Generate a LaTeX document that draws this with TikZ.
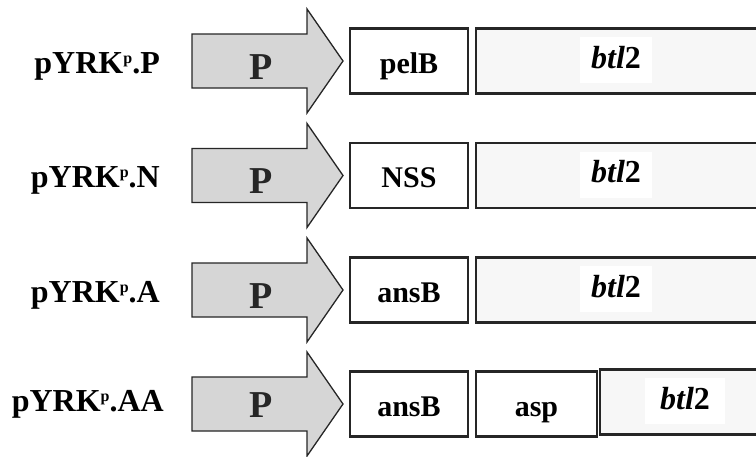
\documentclass[tikz,border=0pt]{standalone}
\usepackage{fontspec}
\setmainfont{Liberation Serif}
\usetikzlibrary{calc}

\definecolor{cinzaseta}{HTML}{D6D6D6}
\definecolor{cinzagene}{HTML}{F7F7F7}
\definecolor{borda}{HTML}{262626}

% nome do plasmideo com o p elevado
\newcommand{\pyrk}[1]{pYRK\raisebox{10pt}{\fontsize{16}{16}\selectfont p}.#1}

\tikzset{
  rotulo/.style={font=\fontsize{32}{34}\selectfont\bfseries, anchor=base east, inner sep=0pt},
  seta/.style={draw=black!85, line width=1.3pt, fill=cinzaseta, line join=miter},
  letra/.style={font=\fontsize{38}{40}\selectfont\bfseries, text=black!85, anchor=base, inner sep=0pt},
  caixa/.style={draw=borda, line width=2.2pt, fill=white, minimum height=65pt,
    inner sep=0pt, font=\fontsize{30}{32}\selectfont\bfseries,
    text height=24pt, text depth=0pt},
  gene/.style={caixa, fill=cinzagene},
  fundo/.style={fill=white, minimum width=72pt, minimum height=46pt, inner sep=0pt,
    font=\fontsize{32}{34}\selectfont\bfseries, text height=16pt, text depth=0pt}
}

\begin{document}
\begin{tikzpicture}[x=1pt, y=-1pt]

  %--------------------------------------------
  % Area da figura (as caixas do gene saem pela direita)
  %--------------------------------------------
  \useasboundingbox (0,0) rectangle (756,456);
  \clip (0,0) rectangle (756,456);

  %--------------------------------------------
  % Construcoes com um unico peptideo sinal
  %   \i     -> linha
  %   \c     -> centro vertical da linha
  %   \nome  -> sufixo do plasmideo
  %   \sinal -> peptideo sinal
  %--------------------------------------------
  \foreach \i/\c/\nome/\sinal in {1/61/P/pelB, 2/175.5/N/NSS, 3/290/A/ansB}
  {
    % Nome do plasmideo
    \node[rotulo] (nome\i) at (160, \c+12) {\pyrk{\nome}};

    % Promotor (seta larga)
    \draw[seta]
    (192, \c-27) -- (307, \c-27) -- (307, \c-52) -- (343, \c)
    -- (307, \c+52) -- (307, \c+27) -- (192, \c+27) -- cycle;
    \node[letra] (prom\i) at (261, \c+18) {P};

    % Peptideo sinal
    \node[caixa, minimum width=118pt] (sinal\i) at (409, \c) {\sinal};

    % Gene btl2
    \node[gene, minimum width=310pt] (gene\i) at (631, \c) {};
    \node[fundo] (btl\i) at (616, \c-1) {\textit{btl}2};
  }

  %--------------------------------------------
  % Ultima construcao (ansB + asp)
  %--------------------------------------------
  \def\c{404}

  \node[rotulo] (nome4) at (164, \c+7) {\pyrk{AA}};

  \draw[seta]
  (192, \c-27) -- (307, \c-27) -- (307, \c-52) -- (343, \c)
  -- (307, \c+52) -- (307, \c+27) -- (192, \c+27) -- cycle;
  \node[letra] (prom4) at (261, \c+13) {P};

  \node[caixa, minimum width=118pt] (sinal4) at (409, \c) {ansB};
  \node[caixa, minimum width=121pt] (asp4) at (536.5, \c) {asp};

  \node[gene, minimum width=170pt] (gene4) at (685, \c-2) {};
  \node[fundo, minimum width=80pt] (btl4) at (685, \c-3) {\textit{btl}2};

\end{tikzpicture}
\end{document}
